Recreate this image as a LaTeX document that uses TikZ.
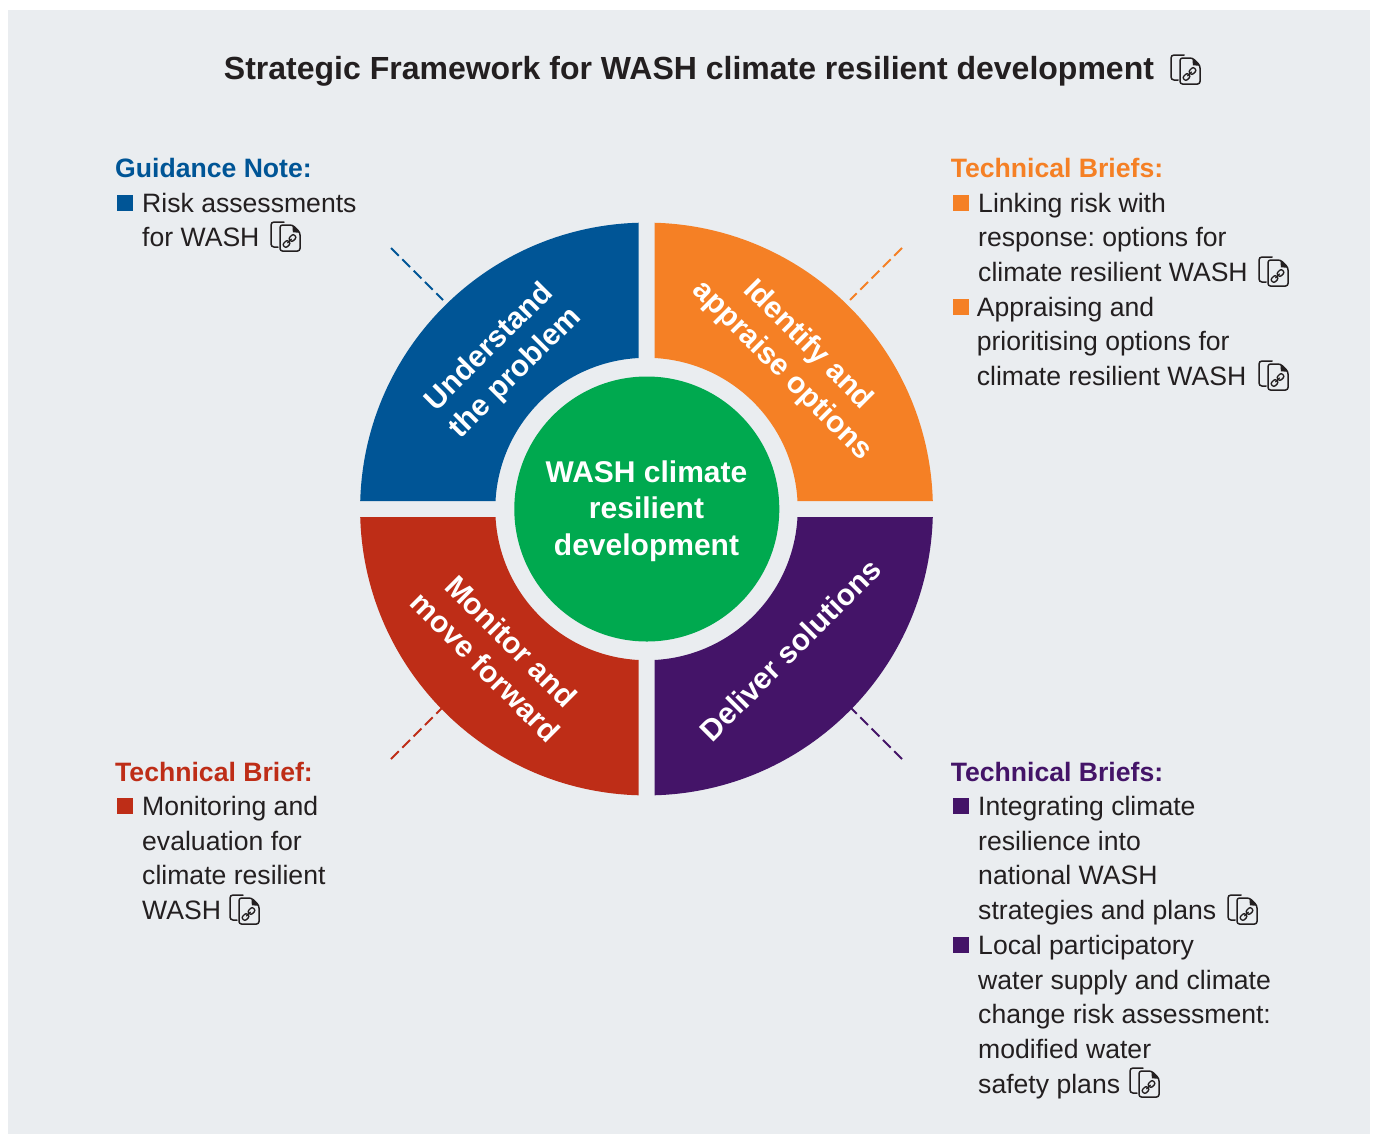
\documentclass[tikz,border=0pt]{standalone}
\usepackage{fontspec}
\setmainfont{Liberation Sans}
\definecolor{panelbg}{HTML}{EAEDF0}
\definecolor{inkc}{HTML}{231F20}
\definecolor{cblue}{HTML}{005596}
\definecolor{corange}{HTML}{F58025}
\definecolor{cpurple}{HTML}{441468}
\definecolor{cred}{HTML}{BE2D17}
\definecolor{cgreen}{HTML}{00A94F}
\tikzset{
  x=1pt,y=1pt,
  bodytext/.style={anchor=north west,inner sep=0pt,align=left,text=inkc,font=\frenchspacing\fontsize{26.6}{34.75}\selectfont},
  headtext/.style={anchor=base west,inner sep=0pt,font=\bfseries\fontsize{26.6}{34.7}\selectfont},
  segtext/.style={inner sep=0pt,align=center,text=white,font=\bfseries\fontsize{30}{36.5}\selectfont},
  bullet/.style={minimum size=16pt,inner sep=0pt,anchor=north west},
  tick/.style={line width=1.8pt,dash pattern=on 11pt off 5pt},
  docicon/.pic={
    \draw[line width=1.5pt,draw=inkc,rounded corners=3pt,line cap=round] (13,0) -- (0,0) -- (0,-25) -- (7,-25);
    \draw[line width=1.5pt,draw=inkc,fill=panelbg,rounded corners=2.5pt,line join=round] (9,-3) -- (21.5,-3) -- (29,-10.5) -- (29,-29) -- (9,-29) -- cycle;
    \fill[inkc] (21.6,-3.6) -- (21.8,-10.4) -- (28.4,-10.6) -- cycle;
    \begin{scope}[shift={(18.5,-19)},rotate=45]
      \draw[line width=1.35pt,draw=inkc,rounded corners=2pt] (-0.9,-2.5) rectangle (-7.6,2.5);
      \draw[line width=1.35pt,draw=inkc,rounded corners=2pt] (0.9,-2.5) rectangle (7.6,2.5);
      \draw[line width=1.35pt,draw=inkc] (-3,0) -- (3,0);
    \end{scope}
  }
}
\begin{document}
\begin{tikzpicture}
\useasboundingbox (0,0) rectangle (1373,-1136);
\fill[panelbg] (8,-10) rectangle (1370,-1134);

% title
\node[anchor=base,inner sep=0pt,text=inkc,font=\bfseries\fontsize{32}{38}\selectfont] (title) at (689,-79) {Strategic Framework for WASH climate resilient development};
\pic at (1171,-55) {docicon};

% wheel
\begin{scope}[shift={(646.5,-509)}]
  \fill[cblue]   (91.6:286.4) arc (91.6:178.4:286.4) -- (176.97:151.2) arc (176.97:93.03:151.2) -- cycle;
  \fill[corange] (88.4:286.4) arc (88.4:1.6:286.4) -- (3.03:151.2) arc (3.03:86.97:151.2) -- cycle;
  \fill[cred]    (181.6:286.4) arc (181.6:268.4:286.4) -- (266.97:151.2) arc (266.97:183.03:151.2) -- cycle;
  \fill[cpurple] (358.4:286.4) arc (358.4:271.6:286.4) -- (273.03:151.2) arc (273.03:356.97:151.2) -- cycle;
\end{scope}
\node[circle,fill=cgreen,minimum size=265pt,inner sep=0pt] (hub) at (646.8,-509) {};
\node[segtext,anchor=center] (hubtext) at (646.5,-511) {WASH climate\\resilient\\development};

\node[segtext,rotate=45] (understand) at (503,-360.5) {Understand\\the problem};
\node[segtext,rotate=-45] (identify) at (795,-358) {Identify and\\appraise options};
\node[segtext,rotate=45] (deliver) at (790,-650) {Deliver solutions};
\node[segtext,rotate=-45] (monitor) at (498.5,-654) {Monitor and\\move forward};

% dashed ticks
\coordinate (b1) at (391,-248); \coordinate (b2) at (443,-300);
\coordinate (o1) at (902,-248); \coordinate (o2) at (850,-300);
\coordinate (r1) at (391,-759); \coordinate (r2) at (443,-707);
\coordinate (p1) at (902,-759); \coordinate (p2) at (850,-707);
\draw[tick,cblue] (b1) -- (b2);
\draw[tick,corange] (o1) -- (o2);
\draw[tick,cred] (r1) -- (r2);
\draw[tick,cpurple] (p1) -- (p2);

% top left
\node[headtext,text=cblue] (h1) at (115,-177) {Guidance Note:};
\node[bullet,fill=cblue] (s1) at (117,-194.5) {};
\node[bodytext] (t1) at (142,-192.6) {Risk assessments\\for WASH};
\pic at (271,-222) {docicon};

% top right
\node[headtext,text=corange] (h2) at (950.6,-177) {Technical Briefs:};
\node[bullet,fill=corange] (s2) at (952.6,-194.5) {};
\node[bodytext] (t2) at (978,-192.6) {Linking risk with\\response: options for\\climate resilient WASH};
\pic at (1259,-257) {docicon};
\node[bullet,fill=corange] (s3) at (952.6,-298.5) {};
\node[bodytext] (t3) at (976.6,-296.6) {Appraising and\\prioritising options for\\climate resilient WASH};
\pic at (1259,-361) {docicon};

% bottom left
\node[headtext,text=cred] (h3) at (115,-781) {Technical Brief:};
\node[bullet,fill=cred] (s4) at (117,-797.5) {};
\node[bodytext] (t4) at (142,-796) {Monitoring and\\evaluation for\\climate resilient\\WASH};
\pic at (230,-895) {docicon};

% bottom right
\node[headtext,text=cpurple] (h4) at (950.6,-781) {Technical Briefs:};
\node[bullet,fill=cpurple] (s5) at (952.6,-797.5) {};
\node[bodytext] (t5) at (978,-796) {Integrating climate\\resilience into\\national WASH\\strategies and plans};
\pic at (1228,-895) {docicon};
\node[bullet,fill=cpurple] (s6) at (952.6,-936.5) {};
\node[bodytext] (t6) at (978,-935) {Local participatory\\water supply and climate\\change risk assessment:\\modified water\\safety plans};
\pic at (1130,-1068) {docicon};
\end{tikzpicture}
\end{document}
